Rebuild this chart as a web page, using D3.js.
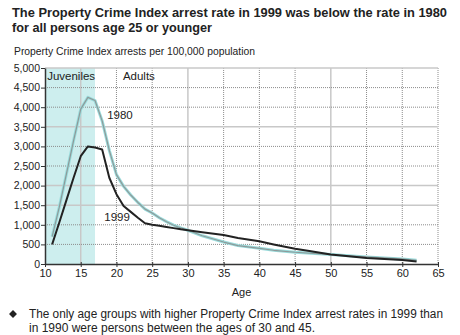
<!DOCTYPE html>
<html>
<head>
<meta charset="utf-8">
<script src="https://cdn.jsdelivr.net/npm/d3@7"></script>
<style>
  body { margin: 0; background: #fff; }
  svg { display: block; font-family: "Liberation Sans", Arial, sans-serif; }
</style>
</head>
<body>
<div id="chart"></div>
<script>
// ages and arrest rates (per 100,000)
const ages1980 = [11, 12, 13, 14, 15, 16, 17, 18, 19, 20, 21, 22, 23, 24, 25, 26, 27, 28, 29, 30, 32, 35, 37, 40, 42, 45, 50, 55, 60, 62];
const rates1980 = [700, 1450, 2300, 3150, 3950, 4250, 4170, 3650, 2900, 2280, 1980, 1760, 1570, 1400, 1300, 1180, 1080, 990, 920, 860, 720, 560, 470, 400, 350, 300, 240, 180, 130, 95];
const ages1999 = [11, 12, 13, 14, 15, 16, 17, 18, 19, 20, 21, 22, 23, 24, 25, 26, 27, 28, 29, 30, 32, 35, 37, 40, 42, 45, 47, 50, 55, 60, 62];
const rates1999 = [500, 1060, 1630, 2200, 2750, 3000, 2970, 2920, 2200, 1780, 1480, 1330, 1180, 1040, 1000, 975, 945, 915, 885, 860, 810, 740, 665, 580, 500, 390, 330, 240, 150, 105, 65];
const xTicks = [10, 15, 20, 25, 30, 35, 40, 45, 50, 55, 60, 65];
const yTicks = [0, 500, 1000, 1500, 2000, 2500, 3000, 3500, 4000, 4500, 5000];
const juvenileRange = [10, 17];
const solidX = [15, 30, 50];
const solidY = [5000, 3500, 2000, 1500];

const width = 460, height = 335;
const marginLeft = 45, marginRight = 22, marginTop = 68, marginBottom = 71;

const svg = d3.select("#chart").append("svg")
    .attr("width", width)
    .attr("height", height);

// title
svg.append("text")
    .attr("x", 12).attr("y", 17)
    .attr("font-size", 12.8).attr("font-weight", "bold").attr("fill", "#222")
    .attr("textLength", 435).attr("lengthAdjust", "spacingAndGlyphs")
    .text("The Property Crime Index arrest rate in 1999 was below the rate in 1980");
svg.append("text")
    .attr("x", 12).attr("y", 32)
    .attr("font-size", 12.8).attr("font-weight", "bold").attr("fill", "#222")
    .attr("textLength", 200).attr("lengthAdjust", "spacingAndGlyphs")
    .text("for all persons age 25 or younger");

svg.append("text")
    .attr("x", 14).attr("y", 55)
    .attr("font-size", 11).attr("fill", "#222")
    .attr("textLength", 241).attr("lengthAdjust", "spacingAndGlyphs")
    .text("Property Crime Index arrests per 100,000 population");

const x = d3.scaleLinear()
    .domain([10, 65])
    .range([marginLeft, width - marginRight]);

const y = d3.scaleLinear()
    .domain([0, 5000])
    .range([height - marginBottom, marginTop]);

// juveniles band
svg.append("rect")
    .attr("x", x(juvenileRange[0]))
    .attr("y", y(5000))
    .attr("width", x(juvenileRange[1]) - x(juvenileRange[0]))
    .attr("height", y(0) - y(5000))
    .attr("fill", "#cdeeee");

// grid
svg.append("g").selectAll("line")
    .data(xTicks.slice(1))
    .join("line")
      .attr("x1", d => x(d)).attr("x2", d => x(d))
      .attr("y1", y(5000)).attr("y2", y(0))
      .attr("stroke", d => solidX.includes(d) ? "#c8c8c8" : "#8c8c8c")
      .attr("stroke-width", d => solidX.includes(d) ? 1.5 : 1)
      .attr("stroke-dasharray", d => solidX.includes(d) ? null : "1,1");

svg.append("g").selectAll("line")
    .data(yTicks.slice(1))
    .join("line")
      .attr("x1", x(10)).attr("x2", x(65))
      .attr("y1", d => y(d)).attr("y2", d => y(d))
      .attr("stroke", d => solidY.includes(d) ? "#c8c8c8" : "#8c8c8c")
      .attr("stroke-width", d => solidY.includes(d) ? 1.5 : 1)
      .attr("stroke-dasharray", d => solidY.includes(d) ? null : "1,1");

// axes
svg.append("g")
    .attr("transform", `translate(0,${y(0)})`)
    .call(d3.axisBottom(x).tickValues(xTicks).tickSize(3).tickSizeOuter(0))
    .call(g => g.select(".domain").attr("stroke", "#333").attr("stroke-width", 1.5))
    .call(g => g.selectAll(".tick line").attr("stroke", "#333").attr("y1", -2))
    .call(g => g.selectAll(".tick text")
        .attr("font-size", 11).attr("fill", "#222")
        .attr("font-family", "Liberation Sans, Arial, sans-serif").attr("dy", "0.6em"));

svg.append("g")
    .attr("transform", `translate(${marginLeft},0)`)
    .call(d3.axisLeft(y).tickValues(yTicks).tickFormat(d3.format(",")).tickSize(4).tickSizeOuter(0))
    .call(g => g.select(".domain").attr("stroke", "#333").attr("stroke-width", 1.5))
    .call(g => g.selectAll(".tick line").attr("stroke", "#333"))
    .call(g => g.selectAll(".tick text")
        .attr("font-size", 10.5).attr("fill", "#222").attr("x", -5)
        .attr("font-family", "Liberation Sans, Arial, sans-serif"));

svg.append("text")
    .attr("x", x(37.5)).attr("y", 296)
    .attr("text-anchor", "middle")
    .attr("font-size", 11).attr("fill", "#222")
    .text("Age");

// lines
const line = d3.line().x(d => x(d[0])).y(d => y(d[1]));
const data1980 = ages1980.map((a, i) => [a, rates1980[i]]);
const data1999 = ages1999.map((a, i) => [a, rates1999[i]]);

svg.append("path").datum(data1980)
    .attr("d", line).attr("fill", "none")
    .attr("stroke", "#9adcdc").attr("stroke-width", 3).attr("stroke-linejoin", "round");
svg.append("path").datum(data1980)
    .attr("d", line).attr("fill", "none")
    .attr("stroke", "#8e9a9a").attr("stroke-width", 1.2).attr("stroke-linejoin", "round");
svg.append("path").datum(data1999)
    .attr("d", line).attr("fill", "none")
    .attr("stroke", "#222").attr("stroke-width", 2).attr("stroke-linejoin", "round");

// labels
const labels = [
  { text: "Juveniles", age: 10.3, value: 4700 },
  { text: "Adults", age: 20.9, value: 4700 },
  { text: "1980", age: 18.7, value: 3700 },
  { text: "1999", age: 18.3, value: 1100 }
];
svg.append("g").selectAll("text")
    .data(labels)
    .join("text")
      .attr("x", d => x(d.age)).attr("y", d => y(d.value))
      .attr("font-size", 11.5).attr("fill", "#222")
      .text(d => d.text);

// footnote
svg.append("path")
    .attr("d", d3.symbol(d3.symbolDiamond2, 40)())
    .attr("transform", "translate(13,314)")
    .attr("fill", "#222");
svg.append("text")
    .attr("x", 29).attr("y", 318)
    .attr("font-size", 12).attr("fill", "#222")
    .attr("textLength", 414).attr("lengthAdjust", "spacingAndGlyphs")
    .text("The only age groups with higher Property Crime Index arrest rates in 1999 than");
svg.append("text")
    .attr("x", 29).attr("y", 332)
    .attr("font-size", 12).attr("fill", "#222")
    .attr("textLength", 286).attr("lengthAdjust", "spacingAndGlyphs")
    .text("in 1990 were persons between the ages of 30 and 45.");
</script>
</body>
</html>
